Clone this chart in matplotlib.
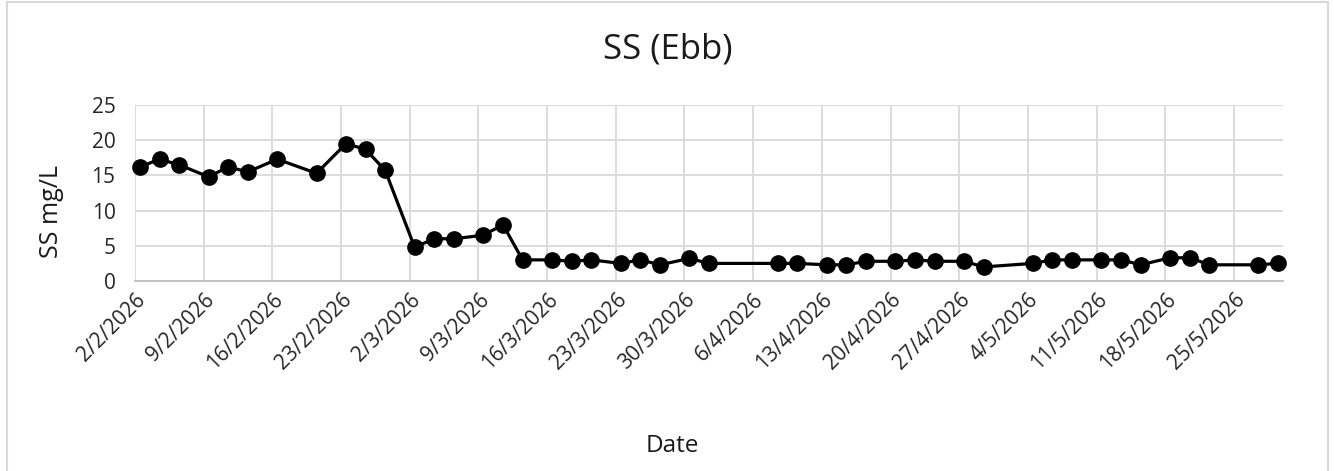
import numpy as np
import pandas as pd
import matplotlib
matplotlib.use("Agg")
import matplotlib.pyplot as plt

plt.rcParams["font.family"] = ["Open Sans", "DejaVu Sans"]

dates = [
    "2026-02-02", "2026-02-04", "2026-02-06", "2026-02-09", "2026-02-11",
    "2026-02-13", "2026-02-16", "2026-02-20", "2026-02-23", "2026-02-25",
    "2026-02-27", "2026-03-02", "2026-03-04", "2026-03-06", "2026-03-09",
    "2026-03-11", "2026-03-13", "2026-03-16", "2026-03-18", "2026-03-20",
    "2026-03-23", "2026-03-25", "2026-03-27", "2026-03-30", "2026-04-01",
    "2026-04-08", "2026-04-10", "2026-04-13", "2026-04-15", "2026-04-17",
    "2026-04-20", "2026-04-22", "2026-04-24", "2026-04-27", "2026-04-29",
    "2026-05-04", "2026-05-06", "2026-05-08", "2026-05-11", "2026-05-13",
    "2026-05-15", "2026-05-18", "2026-05-20", "2026-05-22", "2026-05-27",
    "2026-05-29",
]
ss_values = [
    16.2, 17.3, 16.5, 14.8, 16.2,
    15.5, 17.3, 15.3, 19.5, 18.7,
    15.7, 4.8, 6.0, 6.0, 6.5,
    8.0, 3.0, 3.0, 2.8, 3.0,
    2.5, 3.0, 2.3, 3.2, 2.5,
    2.5, 2.5, 2.3, 2.3, 2.8,
    2.8, 3.0, 2.8, 2.8, 2.0,
    2.5, 3.0, 3.0, 3.0, 3.0,
    2.3, 3.3, 3.3, 2.3, 2.3,
    2.5,
]
tick_dates = pd.date_range("2026-02-02", "2026-05-25", freq="7D")
axis_start = pd.Timestamp("2026-02-02")
axis_end = pd.Timestamp("2026-05-30")

# points sit in the middle of their day, like an Excel date axis
x = pd.to_datetime(dates) + pd.Timedelta(hours=12)

W, H = 1334, 471
fig = plt.figure(figsize=(W / 100, H / 100), dpi=100)
ax = fig.add_axes([135 / W, 1 - 281 / H, (1283 - 135) / W, (281 - 105) / H])

ax.plot(x, ss_values, "-o", color="black", linewidth=2.3,
        markersize=11, zorder=3, clip_on=False)

ax.set_xlim(axis_start, axis_end)
ax.set_ylim(0, 25)
ax.set_yticks(np.arange(0, 26, 5))
ax.set_xticks(tick_dates)
ax.set_xticklabels([f"{d.day}/{d.month}/{d.year}" for d in tick_dates],
                   rotation=45, ha="right", rotation_mode="anchor")

ax.grid(True, color="#d9d9d9", linewidth=1.3)
ax.set_axisbelow(True)
for side in ["top", "right", "left"]:
    ax.spines[side].set_visible(False)
ax.spines["bottom"].set_color("#bfbfbf")
ax.spines["bottom"].set_linewidth(1.3)
ax.tick_params(length=0, labelsize=15, colors="#262626")
ax.tick_params(axis="y", pad=14)
ax.tick_params(axis="x", pad=6)

fig.text(52 / W, 1 - 211 / H, "SS mg/L", rotation=90, ha="center",
         va="center", fontsize=18, color="#1a1a1a")
fig.text(672 / W, 1 - 446 / H, "Date", ha="center", va="center",
         fontsize=17.5, color="#1a1a1a")
fig.text(668 / W, 1 - 50 / H, "SS (Ebb)", ha="center", va="center",
         fontsize=25, color="#1a1a1a")

fig.patches.append(plt.Rectangle((7 / W, -0.01), (1328 - 7) / W, 1 - 2 / H + 0.01,
                                 transform=fig.transFigure, fill=False,
                                 edgecolor="#d9d9d9", linewidth=1.5))

fig.savefig("out.png", dpi=100)
